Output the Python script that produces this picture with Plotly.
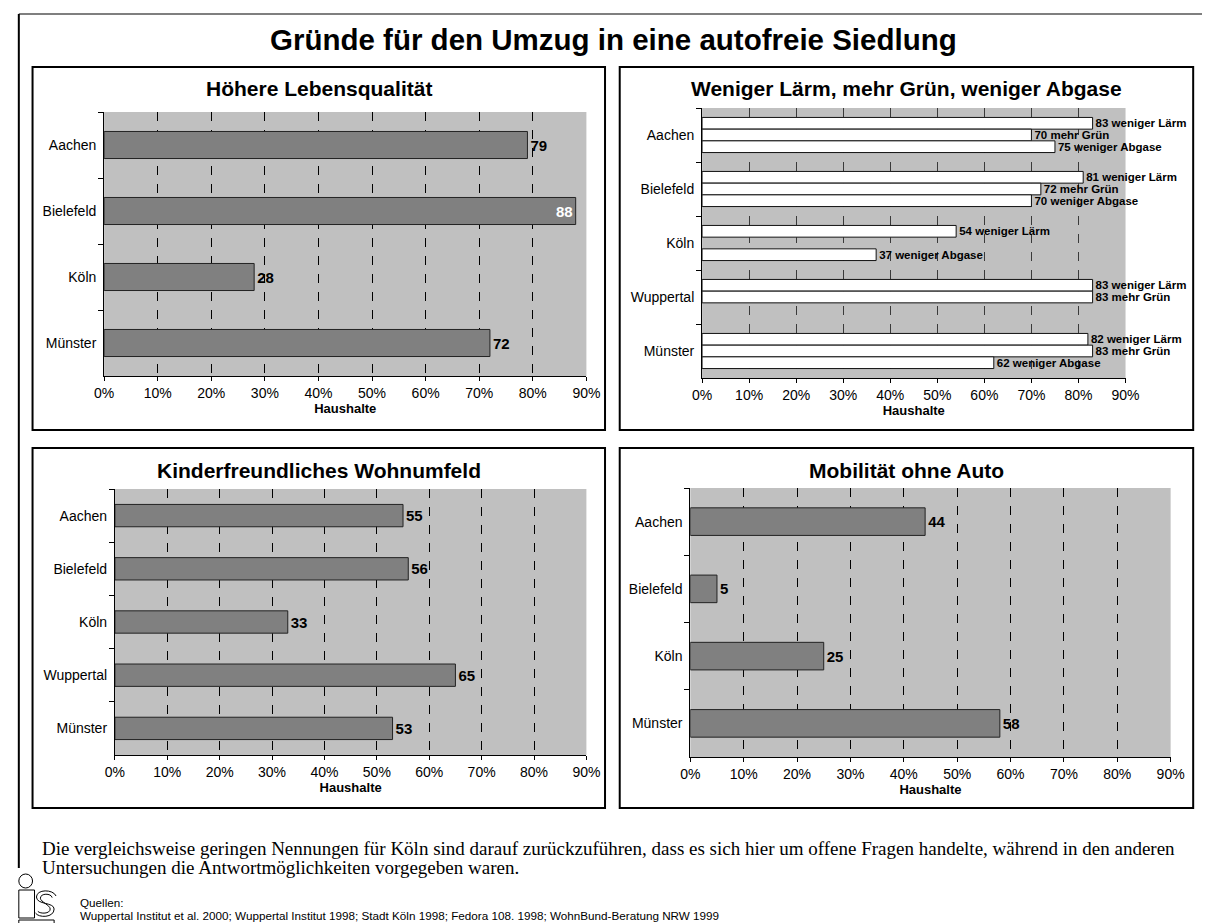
import plotly.graph_objects as go

W, H = 1216, 923

# ---- data -------------------------------------------------------------
cities_leben = ["Aachen", "Bielefeld", "Köln", "Münster"]
lebensqualitaet = [79, 88, 28, 72]

cities_umwelt = ["Aachen", "Bielefeld", "Köln", "Wuppertal", "Münster"]
weniger_laerm = [83, 81, 54, 83, 82]
mehr_gruen = [70, 72, None, 83, 83]
weniger_abgase = [75, 70, 37, None, 62]

cities_kinder = ["Aachen", "Bielefeld", "Köln", "Wuppertal", "Münster"]
kinderfreundlich = [55, 56, 33, 65, 53]

cities_mobil = ["Aachen", "Bielefeld", "Köln", "Münster"]
mobilitaet = [44, 5, 25, 58]

tick_values = [0, 10, 20, 30, 40, 50, 60, 70, 80, 90]
tick_labels = ["0%", "10%", "20%", "30%", "40%", "50%", "60%", "70%", "80%", "90%"]

panel_titles = [
    "Höhere Lebensqualität",
    "Weniger Lärm, mehr Grün, weniger Abgase",
    "Kinderfreundliches Wohnumfeld",
    "Mobilität ohne Auto",
]
main_title = "Gründe für den Umzug in eine autofreie Siedlung"
note_lines = [
    "Die vergleichsweise geringen Nennungen für Köln sind darauf zurückzuführen, dass es sich hier um "
    "offene Fragen handelte, während in den anderen",
    "Untersuchungen die Antwortmöglichkeiten vorgegeben waren.",
]
source_lines = [
    "Quellen:",
    "Wuppertal Institut et al. 2000; Wuppertal Institut 1998; Stadt Köln 1998; "
    "Fedora 108. 1998; WohnBund-Beratung NRW 1999",
]

# ---- helpers (pixel -> paper) ----------------------------------------
def fx(x):
    return x / W


def fy(y):
    return 1 - y / H


FONT = "Arial, Liberation Sans, sans-serif"
SERIF = "Times New Roman, Liberation Serif, serif"
BAR_GREY = "#808080"
PLOT_BG = "#c0c0c0"

# plot areas in pixels: (left, right, top, bottom)
areas = {
    1: (96, 588, 112, 376),
    2: (706, 1138, 108, 378),
    3: (107, 588, 489, 755),
    4: (694, 1184, 488, 757),
}
# panel frames in pixels
frames = {
    1: (23, 607, 67, 430),
    2: (622, 1207, 67, 430),
    3: (23, 607, 448, 808),
    4: (622, 1207, 448, 808),
}

fig = go.Figure()

# Panel 1: Höhere Lebensqualität
fig.add_trace(go.Bar(
    y=cities_leben, x=lebensqualitaet, orientation="h",
    marker=dict(color=BAR_GREY, line=dict(color="#222", width=1)),
    width=0.41,
    text=[str(v) for v in lebensqualitaet],
    textposition=["outside" if v < 85 else "inside" for v in lebensqualitaet],
    insidetextanchor="end",
    insidetextfont=dict(color="white", size=15, family=FONT, weight="bold"),
    outsidetextfont=dict(color="black", size=15, family=FONT, weight="bold"),
    constraintext="none", cliponaxis=False,
    xaxis="x", yaxis="y", showlegend=False,
))

# Panel 2: three grouped series
for name, vals in [("weniger Lärm", weniger_laerm), ("mehr Grün", mehr_gruen),
                   ("weniger Abgase", weniger_abgase)]:
    fig.add_trace(go.Bar(
        y=cities_umwelt, x=vals, orientation="h", name=name,
        marker=dict(color="white", line=dict(color="#111", width=1)),
        text=["" if v is None else f"{v} {name}" for v in vals],
        textposition="outside",
        textfont=dict(color="black", size=11.5, family=FONT, weight="bold"),
        constraintext="none", cliponaxis=False,
        xaxis="x2", yaxis="y2", showlegend=False,
    ))

# Panel 3: Kinderfreundliches Wohnumfeld
fig.add_trace(go.Bar(
    y=cities_kinder, x=kinderfreundlich, orientation="h",
    marker=dict(color=BAR_GREY, line=dict(color="#222", width=1)),
    width=0.42,
    text=[str(v) for v in kinderfreundlich], textposition="outside",
    textfont=dict(color="black", size=15, family=FONT, weight="bold"),
    constraintext="none", cliponaxis=False,
    xaxis="x3", yaxis="y3", showlegend=False,
))

# Panel 4: Mobilität ohne Auto
fig.add_trace(go.Bar(
    y=cities_mobil, x=mobilitaet, orientation="h",
    marker=dict(color=BAR_GREY, line=dict(color="#222", width=1)),
    width=0.41,
    text=[str(v) for v in mobilitaet], textposition="outside",
    textfont=dict(color="black", size=15, family=FONT, weight="bold"),
    constraintext="none", cliponaxis=False,
    xaxis="x4", yaxis="y4", showlegend=False,
))

layout = dict(
    width=W, height=H, autosize=False,
    margin=dict(l=0, r=0, t=0, b=0),
    paper_bgcolor="white", plot_bgcolor=PLOT_BG,
    font=dict(family=FONT, size=14, color="black"),
    barmode="group", bargap=0.35, bargroupgap=0.0,
)

cats = {1: cities_leben, 2: cities_umwelt, 3: cities_kinder, 4: cities_mobil}
for i in range(1, 5):
    l, r, t, b = areas[i]
    suffix = "" if i == 1 else str(i)
    grid_col = "#3a3a3a" if i == 2 else "black"
    layout["xaxis" + suffix] = dict(
        domain=[fx(l), fx(r)], anchor="y" + suffix, range=[0, 90],
        tickvals=tick_values, ticktext=tick_labels,
        ticks="outside", ticklen=4, tickcolor="black",
        showline=True, linecolor="black", linewidth=1,
        showgrid=True, gridcolor=grid_col, griddash="dash", gridwidth=1,
        zeroline=False, tickfont=dict(size=14),
        title=dict(text="<b>Haushalte</b>", font=dict(size=13), standoff=1),
        fixedrange=True,
    )
    layout["yaxis" + suffix] = dict(
        domain=[fy(b), fy(t)], anchor="x" + suffix, type="category",
        categoryorder="array", categoryarray=cats[i], autorange="reversed",
        tickson="boundaries", ticks="outside", ticklen=5, tickcolor="black",
        showline=True, linecolor="black", linewidth=1, showgrid=False,
        tickfont=dict(size=14), ticklabelstandoff=4, fixedrange=True,
    )

shapes = []
annotations = []

# outer partial frame
shapes.append(dict(type="line", xref="paper", yref="paper",
                   x0=fx(9), x1=fx(1216), y0=fy(14), y1=fy(14),
                   line=dict(color="#555", width=1.5)))
shapes.append(dict(type="line", xref="paper", yref="paper",
                   x0=fx(9), x1=fx(9), y0=fy(14), y1=fy(868),
                   line=dict(color="black", width=2)))

# panel frames and titles
for i in range(1, 5):
    l, r, t, b = frames[i]
    shapes.append(dict(type="rect", xref="paper", yref="paper",
                       x0=fx(l), x1=fx(r), y0=fy(b), y1=fy(t),
                       line=dict(color="black", width=2), layer="below"))
    annotations.append(dict(
        text=f"<b>{panel_titles[i - 1]}</b>", xref="paper", yref="paper",
        x=fx((l + r) / 2), y=fy(t + 22), xanchor="center", yanchor="middle",
        showarrow=False, font=dict(size=21, family=FONT)))

annotations.append(dict(
    text=f"<b>{main_title}</b>", xref="paper", yref="paper",
    x=fx(616), y=fy(40), xanchor="center", yanchor="middle",
    showarrow=False, font=dict(size=29.5, family=FONT)))

for line, yc in zip(note_lines, (848, 867)):
    annotations.append(dict(
        text=line, xref="paper", yref="paper", x=fx(31), y=fy(yc),
        xanchor="left", yanchor="middle", align="left", showarrow=False,
        font=dict(size=19, family=SERIF)))

for line, yc in zip(source_lines, (902, 915)):
    annotations.append(dict(
        text=line, xref="paper", yref="paper", x=fx(69), y=fy(yc),
        xanchor="left", yanchor="middle", align="left", showarrow=False,
        font=dict(size=11.7, family=FONT)))

# ILS logo (outlined shapes)
logo_line = dict(color="black", width=1)
shapes.append(dict(type="circle", xref="paper", yref="paper",
                   x0=fx(9), x1=fx(23), y0=fy(888), y1=fy(874), line=logo_line))
shapes.append(dict(type="rect", xref="paper", yref="paper",
                   x0=fx(9), x1=fx(25), y0=fy(918), y1=fy(890), line=logo_line))
shapes.append(dict(type="rect", xref="paper", yref="paper",
                   x0=fx(9), x1=fx(45), y0=fy(932), y1=fy(920), line=logo_line))


def s_path(pts):
    p = f"M {fx(pts[0][0])},{fy(pts[0][1])}"
    for k in range(1, len(pts), 3):
        c1, c2, e = pts[k], pts[k + 1], pts[k + 2]
        p += (f" C {fx(c1[0])},{fy(c1[1])} {fx(c2[0])},{fy(c2[1])} "
              f"{fx(e[0])},{fy(e[1])}")
    return p


# outlined "S" drawn as two parallel strokes
for off in (0, 4):
    pts = [(47 - off, 896 + off * 0.4),
           (44 - off * 0.5, 889 + off), (27 + off, 889 + off), (27 + off, 897 + off * 0.3),
           (27 + off, 905 - off * 0.8), (45 - off, 902 + off * 0.8), (45 - off, 909),
           (45 - off, 918 - off), (29 + off * 0.5, 918 - off), (26 + off * 0.6, 913 - off * 0.4)]
    shapes.append(dict(type="path", xref="paper", yref="paper",
                       path=s_path(pts), line=logo_line))

layout["shapes"] = shapes
layout["annotations"] = annotations
fig.update_layout(**layout)

fig.write_html("out.html")
